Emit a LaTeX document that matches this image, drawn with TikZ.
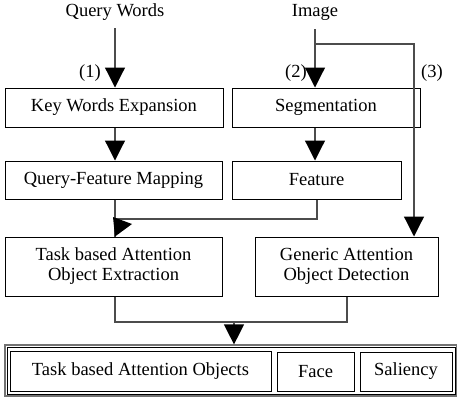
\documentclass[tikz,border=0pt]{standalone}
\usepackage{fontspec}
\setmainfont{Liberation Serif}
\usetikzlibrary{arrows.meta}
\begin{document}
\begin{tikzpicture}[x=1pt,y=-1pt,
  txt/.style={font=\fontsize{18.5}{20}\selectfont, inner sep=0pt, align=center},
  box/.style={txt, draw=black, line width=1pt},
  conn/.style={draw=black!70, line width=1.2pt},
  arr/.style={conn, -{Triangle[width=20pt,length=20pt,color=black,fill=black]}}
]
\useasboundingbox (0,0) rectangle (457,400);

% titles
\node[txt] (qw) at (115,12) {Query Words};
\node[txt] (img) at (315,12) {Image};

% boxes
\node[box, minimum width=218pt, minimum height=39pt] (kwe) at (114,107.5) {Key Words Expansion};
\node[box, minimum width=188pt, minimum height=39pt] (seg) at (326,107.5) {Segmentation};
\node[box, minimum width=217pt, minimum height=38pt] (qfm) at (113.5,180) {Query-Feature Mapping};
\node[box, minimum width=169pt, minimum height=38pt] (feat) at (316.5,180) {Feature};
\node[box, minimum width=217pt, minimum height=59pt] (task) at (113.5,266.5) {Task based Attention\\Object Extraction};
\node[box, minimum width=183pt, minimum height=59pt] (gen) at (346.5,266.5) {Generic Attention\\Object Detection};

% output frame
\node[draw=black!55, line width=1.2pt, minimum width=452pt, minimum height=51pt, inner sep=0pt] (outer) at (231,370.5) {};
\node[draw=black, line width=0.8pt, minimum width=448pt, minimum height=47pt, inner sep=0pt] (inner) at (231,370.5) {};
\node[box, minimum width=261pt, minimum height=40pt] (tao) at (140.5,371) {Task based Attention Objects};
\node[box, minimum width=77pt, minimum height=39pt] (face) at (315.5,371.5) {Face};
\node[box, minimum width=92pt, minimum height=39pt] (sal) at (406,371.5) {Saliency};

% labels
\node[txt] (l1) at (90,73) {(1)};
\node[txt] (l2) at (296,73) {(2)};
\node[txt] (l3) at (432,73) {(3)};

% connectors
\coordinate (q0) at (115,28);
\draw[arr] (q0) -- (q0 |- kwe.north);
\coordinate (i0) at (315,29);
\coordinate (ib) at (315,44);
\draw[arr] (i0) -- (i0 |- seg.north);
\draw[arr] (ib) -- (414,44) -- (414,0 |- gen.north);
\draw[arr] (115,0 |- kwe.south) -- (115,0 |- qfm.north);
\draw[arr] (315,0 |- seg.south) -- (315,0 |- feat.north);

% merge into task
\coordinate (m) at (115,219);
\draw[conn] (115,0 |- qfm.south) -- (115,0 |- task.north);
\draw[conn] (317,0 |- feat.south) -- (317,219) -- (m);
\fill[black] (113,217) -- (132,224) -- (115,0 |- task.north) -- cycle;

% merge into output
\coordinate (j) at (234,322);
\draw[conn] (115,0 |- task.south) -- (115,322) -- (347,322) -- (347,0 |- gen.south);
\draw[arr] (j) -- (j |- outer.north);
\end{tikzpicture}
\end{document}
